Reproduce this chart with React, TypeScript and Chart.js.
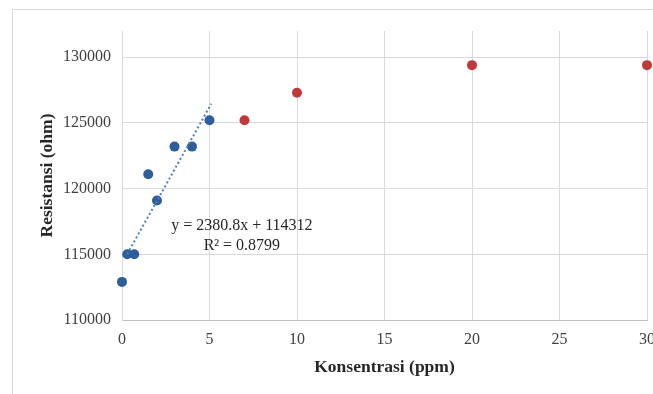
import React, { useEffect, useRef } from "react";
import { Chart, registerables } from "chart.js";

Chart.register(...registerables);

// Data
const linearX = [0, 0.3, 0.7, 1.5, 2, 3, 4, 5];
const linearY = [112900, 115000, 115000, 121100, 119100, 123200, 123200, 125200];
const saturX = [7, 10, 20, 30];
const saturY = [125200, 127300, 129400, 129400];

// Trendline as printed on the chart
const trendSlope = 2380.8;
const trendIntercept = 114312;
const trendRange = [0.3, 5.1];
const trendLabel = ["y = 2380.8x + 114312", "R² = 0.8799"];
const trendLabelAt = { x: 6.85, y: 117150 };

const xTicks = [0, 5, 10, 15, 20, 25, 30];
const yTicks = [110000, 115000, 120000, 125000, 130000];

const FONT = '"Liberation Serif", "Times New Roman", serif';

const annotationPlugin = {
  id: "trendAnnotation",
  afterDatasetsDraw(chart: any) {
    const { ctx, scales } = chart;
    const px = scales.x.getPixelForValue(trendLabelAt.x);
    const py = scales.y.getPixelForValue(trendLabelAt.y);
    ctx.save();
    ctx.fillStyle = "#262626";
    ctx.font = `16px ${FONT}`;
    ctx.textAlign = "center";
    ctx.textBaseline = "middle";
    trendLabel.forEach((t, i) => ctx.fillText(t, px, py + i * 20));
    ctx.restore();
  },
};

export default function App() {
  const ref = useRef<HTMLCanvasElement | null>(null);

  useEffect(() => {
    if (!ref.current) return;
    const chart = new Chart(ref.current, {
      type: "scatter",
      data: {
        datasets: [
          {
            label: "trend",
            type: "line",
            data: trendRange.map((x) => ({ x, y: trendSlope * x + trendIntercept })),
            borderColor: "#4f81bd",
            borderWidth: 2,
            borderDash: [2, 2.5],
            pointRadius: 0,
            fill: false,
            clip: false,
          } as any,
          {
            label: "linear",
            data: linearX.map((x, i) => ({ x, y: linearY[i] })),
            backgroundColor: "#2e5d9b",
            borderColor: "#2e5d9b",
            pointRadius: 5,
            pointBorderWidth: 0,
            clip: false,
          } as any,
          {
            label: "saturation",
            data: saturX.map((x, i) => ({ x, y: saturY[i] })),
            backgroundColor: "#c0393b",
            borderColor: "#c0393b",
            pointRadius: 5,
            pointBorderWidth: 0,
            clip: false,
          } as any,
        ],
      },
      options: {
        animation: false,
        responsive: false,
        layout: { padding: { left: 33, top: 31, right: 53, bottom: 0 } },
        plugins: { legend: { display: false }, tooltip: { enabled: false } },
        scales: {
          x: {
            type: "linear",
            min: 0,
            max: 30,
            afterFit: (s: any) => {
              s.height = 74;
            },
            afterBuildTicks: (s: any) => {
              s.ticks = xTicks.map((v) => ({ value: v }));
            },
            grid: { color: "#d9d9d9", drawTicks: false },
            border: { color: "#bfbfbf" },
            ticks: {
              padding: 10,
              color: "#404040",
              font: { family: FONT, size: 16 },
              callback: (v: any) => String(v),
            },
            title: {
              display: true,
              text: "Konsentrasi (ppm)",
              color: "#262626",
              font: { family: FONT, size: 17.5, weight: "bold" },
              padding: { top: 4, bottom: 16 },
            },
          },
          y: {
            type: "linear",
            min: 110000,
            max: 132000,
            afterFit: (s: any) => {
              s.width = 89;
            },
            afterBuildTicks: (s: any) => {
              s.ticks = yTicks.map((v) => ({ value: v }));
            },
            grid: { color: "#d9d9d9", drawTicks: false },
            border: { color: "#d9d9d9" },
            ticks: {
              padding: 11,
              color: "#404040",
              font: { family: FONT, size: 16 },
              callback: (v: any) => String(v),
            },
            title: {
              display: true,
              text: "Resistansi (ohm)",
              color: "#262626",
              font: { family: FONT, size: 17.5, weight: "bold" },
              padding: { top: 4, bottom: 4 },
            },
          },
        },
      },
      plugins: [annotationPlugin],
    });
    return () => chart.destroy();
  }, []);

  return (
    <div style={{ position: "fixed", left: 0, top: 0, width: 700, height: 394, background: "#fff" }}>
      <div
        style={{
          position: "absolute",
          left: 12,
          top: 9,
          width: 700,
          height: 400,
          borderTop: "1px solid #d9d9d9",
          borderLeft: "1px solid #d9d9d9",
        }}
      />
      <canvas ref={ref} width={700} height={394} style={{ position: "absolute", left: 0, top: 0 }} />
    </div>
  );
}
